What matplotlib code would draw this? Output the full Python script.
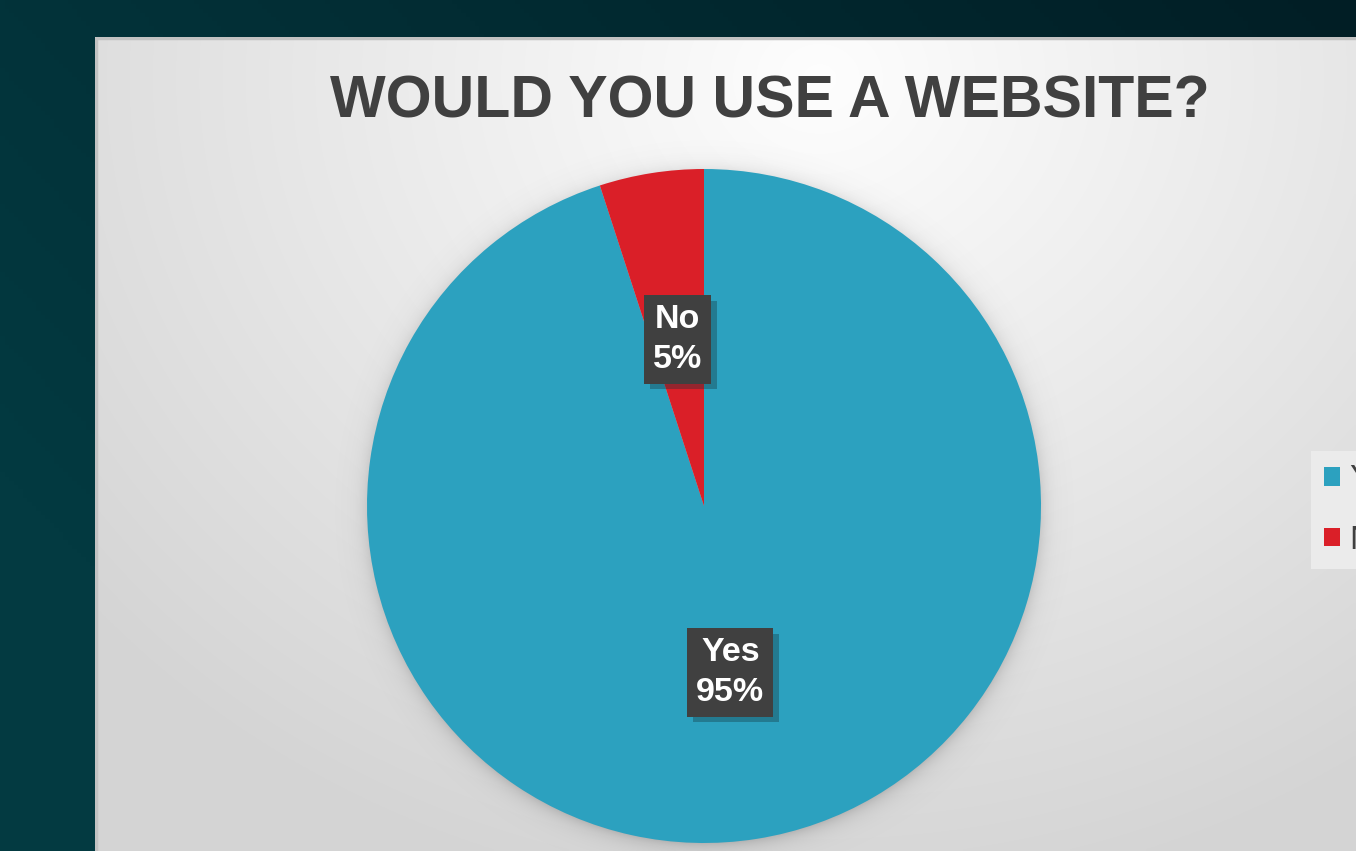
import numpy as np
import matplotlib
matplotlib.use("Agg")
import matplotlib.pyplot as plt
import matplotlib.patheffects as pe

plt.rcParams['font.family'] = ['Liberation Sans', 'DejaVu Sans']

# ---- data ----
categories = ["Yes", "No"]
shares = [95, 5]
slice_colors = ["#2CA1BF", "#DA1F28"]
title_text = "WOULD YOU USE A WEBSITE?"

W, H = 1356, 851
fig = plt.figure(figsize=(W / 100, H / 100), dpi=100)

# dark teal backdrop
bg = fig.add_axes([0, 0, 1, 1])
bg.set_axis_off()
yy, xx = np.mgrid[0:1:200j, 0:1:300j]
t = np.clip(0.75 * xx + 0.45 * (1 - yy) - 0.2, 0, 1)
c0 = np.array([0x03, 0x3A, 0x41]) / 255
c1 = np.array([0x01, 0x1E, 0x25]) / 255
img = c0[None, None, :] * (1 - t[..., None]) + c1[None, None, :] * t[..., None]
bg.imshow(img[::-1], extent=[0, 1, 0, 1], aspect='auto', origin='lower')
bg.set_xlim(0, 1)
bg.set_ylim(0, 1)

# light slide panel with soft radial shading
px0, py0 = 95, 37
panel = fig.add_axes([px0 / W, 0, 1 - px0 / W, 1 - py0 / H])
panel.set_axis_off()
pw, ph = W - px0, H - py0
gy, gx = np.mgrid[0:ph:ph * 1j / 4, 0:pw:pw * 1j / 4]
cx, cy = 820 - px0, 40
d = np.sqrt((gx - cx) ** 2 + ((gy - cy) * 1.15) ** 2)
s = np.clip(d / 950, 0, 1)
v = 0.995 - (0.995 - 0.835) * s
panel.imshow(np.dstack([v, v, v]), extent=[0, pw, ph, 0], aspect='auto',
             interpolation='bilinear')
panel.set_xlim(0, pw)
panel.set_ylim(ph, 0)
# thin grey frame along top and left edges
panel.plot([0, pw], [1, 1], color="#C2C2C2", lw=2.5, solid_capstyle='butt')
panel.plot([1, 1], [0, ph], color="#C2C2C2", lw=2.5, solid_capstyle='butt')

# title
fig.text(770 / W, 1 - 102 / H, title_text, ha='center', va='center',
         fontsize=42.5, fontweight='bold', color="#404040")

# pie
pcx, pcy, R = 704, 506, 337
span = 1.12
ax = fig.add_axes([(pcx - R * span) / W, 1 - (pcy + R * span) / H,
                   2 * R * span / W, 2 * R * span / H])
ax.set_axis_off()

# soft shadow around the pie
sy, sx = np.mgrid[-span:span:400j, -span:span:400j]
rr = np.sqrt(sx ** 2 + (sy + 0.012) ** 2)
alpha = np.where(rr > 0.99, 0.30 * np.exp(-np.clip(rr - 0.99, 0, None) / 0.025), 0.30)
shadow = np.zeros((400, 400, 4))
shadow[..., :3] = 0.35
shadow[..., 3] = alpha
ax.imshow(shadow, extent=[-span, span, -span, span], origin='lower', zorder=0,
          interpolation='bilinear')

wedges, texts = ax.pie(
    shares, colors=slice_colors, startangle=90, counterclock=False,
    radius=1.0, labels=[f"{c}\n{s}%" for c, s in zip(categories, shares)],
    labeldistance=0.5,
    wedgeprops=dict(linewidth=0),
    textprops=dict(color='white', fontsize=24.5, fontweight='bold',
                   ha='center', va='center', linespacing=1.36))
for w in wedges:
    w.set_zorder(2)
for tx in texts:
    tx.set_zorder(5)
    tx.set_bbox(dict(boxstyle='square,pad=0.26', facecolor='#404040',
                     edgecolor='none'))
    tx.get_bbox_patch().set_path_effects([
        pe.SimplePatchShadow(offset=(4, -4), shadow_rgbFace='#15323a', alpha=0.35),
        pe.Normal()])
ax.set_xlim(-span, span)
ax.set_ylim(-span, span)

# legend (runs off the right edge of the slide)
leg = fig.legend(wedges, categories, loc='upper left',
                 bbox_to_anchor=(1311 / W, 1 - 451 / H),
                 borderaxespad=0, fontsize=24, frameon=True,
                 handlelength=0.46, handleheight=0.46, handletextpad=0.28,
                 borderpad=0.4, labelspacing=0.88, fancybox=False)
leg.get_frame().set_facecolor('#EBEBEB')
leg.get_frame().set_edgecolor('none')
leg.get_frame().set_alpha(1)
for t_ in leg.get_texts():
    t_.set_color('#404040')

fig.savefig("out.png", dpi=100)
